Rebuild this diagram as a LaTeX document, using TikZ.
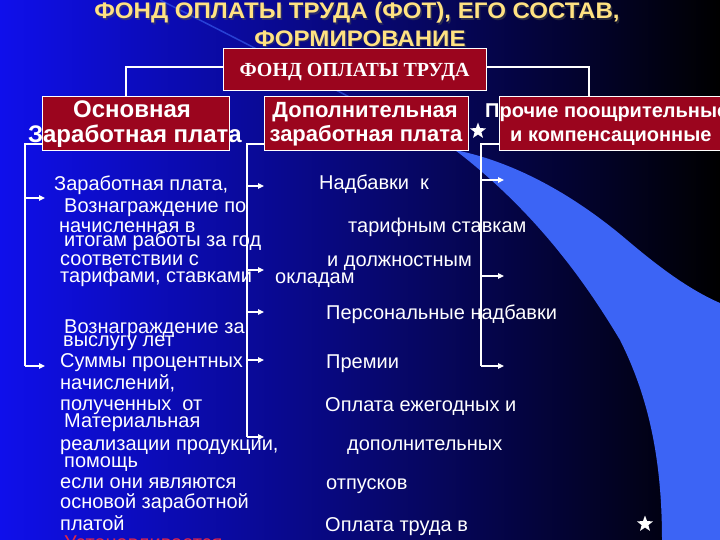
\documentclass[tikz,border=0pt]{standalone}
\usepackage{fontspec}
\setmainfont{Liberation Sans}
\newfontfamily\timesb{Liberation Serif}
\usetikzlibrary{arrows.meta,shapes.geometric}
\definecolor{bgleft}{RGB}{15,15,235}
\definecolor{bgmid}{RGB}{0,0,155}
\definecolor{bandblue}{RGB}{60,100,245}
\definecolor{boxred}{RGB}{155,5,30}
\definecolor{titleyel}{RGB}{255,226,130}
\definecolor{redtxt}{RGB}{225,40,70}
\tikzset{
  redbox/.style={draw=white, line width=0.8pt, fill=boxred, inner sep=0pt},
  boxtxt/.style={text=white, font=\fontsize{22}{26}\selectfont\bfseries, inner sep=0pt, anchor=base},
  bodytxt/.style={text=white, font=\fontsize{20}{22}\selectfont, inner sep=0pt, anchor=base west},
  conn/.style={draw=white, line width=1.2pt},
  arr/.style={draw=white, line width=1.2pt, -{Triangle[length=6pt,width=5.5pt]}},
  wstar/.style={star, star points=5, star point ratio=2.4, fill=white, inner sep=0pt, minimum size=17pt},
  ttl/.style={text=titleyel, font=\fontsize{22.5}{26}\selectfont\bfseries, inner sep=0pt, anchor=base, xscale=1.07}
}
\begin{document}
\begin{tikzpicture}[x=1pt,y=-1pt]
\useasboundingbox (0,0) rectangle (720,540);
% background
\shade[left color=bgleft, middle color=bgmid, right color=black] (0,0) rectangle (720,540);
\draw[bandblue, opacity=0.6, line width=1.5pt] (160,0) .. controls (300,70) and (400,125) .. (460,152);
\fill[bandblue] (455,150) .. controls (520,163) and (580,200) .. (627,240)
  .. controls (660,268) and (690,290) .. (720,303) -- (720,540) -- (662,540)
  .. controls (662,450) and (645,390) .. (620,340)
  .. controls (590,290) and (540,215) .. (455,150) -- cycle;
% title
\node[ttl, text=black!70, opacity=0.5] at (358.5,20.5) {ФОНД ОПЛАТЫ ТРУДА (ФОТ), ЕГО СОСТАВ,};
\node[ttl] (t1) at (357,19) {ФОНД ОПЛАТЫ ТРУДА (ФОТ), ЕГО СОСТАВ,};
\node[ttl, text=black!70, opacity=0.5] at (361.5,48) {ФОРМИРОВАНИЕ};
\node[ttl] (t2) at (360,46.5) {ФОРМИРОВАНИЕ};
% boxes
\node[redbox, minimum width=263pt, minimum height=42pt] (top) at (354.5,69) {};
\node[text=white, font=\timesb\fontsize{20}{24}\selectfont\bfseries, inner sep=0pt, anchor=base] at (354.5,77) {ФОНД ОПЛАТЫ ТРУДА};
\node[redbox, minimum width=187pt, minimum height=54pt] (lb) at (135.5,123) {};
\node[redbox, minimum width=204pt, minimum height=54pt] (mb) at (366,123) {};
\node[redbox, minimum width=240pt, minimum height=54pt, anchor=west] (rb) at (499,123) {};
\node[boxtxt, font=\fontsize{24}{28}\selectfont\bfseries] at (132,118) {Основная};
\node[boxtxt, font=\fontsize{24}{28}\selectfont\bfseries] at (135,143) {Заработная плата};
\node[boxtxt] at (365,118) {Дополнительная};
\node[boxtxt] at (366,142) {заработная плата};
\node[boxtxt, font=\fontsize{20}{22}\selectfont\bfseries, anchor=base west] at (485,118) {Прочие поощрительные};
\node[boxtxt, font=\fontsize{20}{22}\selectfont\bfseries, anchor=base west] at (510,142) {и компенсационные};
\node[wstar] (s1) at (478,131) {};
\node[wstar] (s2) at (645,524) {};
% top connectors
\coordinate (tl) at (126,67);
\coordinate (tr) at (589,67);
\draw[conn] (top.west |- tl) -- (tl) -- (tl |- lb.north);
\draw[conn] (top.east |- tr) -- (tr) -- (tr |- rb.north);
% left bracket
\coordinate (L0) at (25,144);
\coordinate (La) at (45,198);
\coordinate (Lb) at (45,366);
\draw[conn] (lb.west |- L0) -- (L0) -- (L0 |- Lb);
\draw[arr] (L0 |- La) -- (La);
\draw[arr] (L0 |- Lb) -- (Lb);
% middle bracket
\coordinate (M0) at (247,144);
\coordinate (Ma) at (264,186);
\coordinate (Mb) at (264,270);
\coordinate (Mc) at (264,312);
\coordinate (Md) at (264,360);
\coordinate (Me) at (264,437);
\draw[conn] (mb.west |- M0) -- (M0) -- (M0 |- Me);
\foreach \p in {Ma,Mb,Mc,Md,Me} \draw[arr] (M0 |- \p) -- (\p);
% right bracket
\coordinate (R0) at (481,144);
\coordinate (Ra) at (504,180);
\coordinate (Rb) at (504,276);
\coordinate (Rc) at (504,366);
\draw[conn] (rb.west |- R0) -- (R0) -- (R0 |- Rc);
\foreach \p in {Ra,Rb,Rc} \draw[arr] (R0 |- \p) -- (\p);
% column 1
\node[bodytxt] at (54,191) {Заработная плата,};
\node[bodytxt] at (64,212) {Вознаграждение по};
\node[bodytxt] at (59,233) {начисленная в};
\node[bodytxt] at (64,247) {итогам работы за год};
\node[bodytxt] at (60,265) {соответствии с};
\node[bodytxt] at (60,282) {тарифами, ставками};
\node[bodytxt] at (64,333) {Вознаграждение за};
\node[bodytxt] at (63,346) {выслугу лет};
\node[bodytxt] at (60,367) {Суммы процентных};
\node[bodytxt] at (60,389) {начислений,};
\node[bodytxt] at (60,410) {полученных\ \ от};
\node[bodytxt] at (64,427) {Материальная};
\node[bodytxt] at (60,450) {реализации продукции,};
\node[bodytxt] at (64,467) {помощь};
\node[bodytxt] at (60,488) {если они являются};
\node[bodytxt] at (60,508) {основой заработной};
\node[bodytxt] at (60,530) {платой};
\node[bodytxt, text=redtxt] at (64,549) {Устанавливается};
% column 2
\node[bodytxt] at (319,190) {Надбавки\ \ к};
\node[bodytxt] at (348,233) {тарифным ставкам};
\node[bodytxt] at (327,266) {и должностным};
\node[bodytxt] at (275,283) {окладам};
\node[bodytxt] at (326,319) {Персональные надбавки};
\node[bodytxt] at (326,368) {Премии};
\node[bodytxt] at (325,411) {Оплата ежегодных и};
\node[bodytxt] at (347,450) {дополнительных};
\node[bodytxt] at (326,489) {отпусков};
\node[bodytxt] at (325,531) {Оплата труда в};
\end{tikzpicture}
\end{document}
